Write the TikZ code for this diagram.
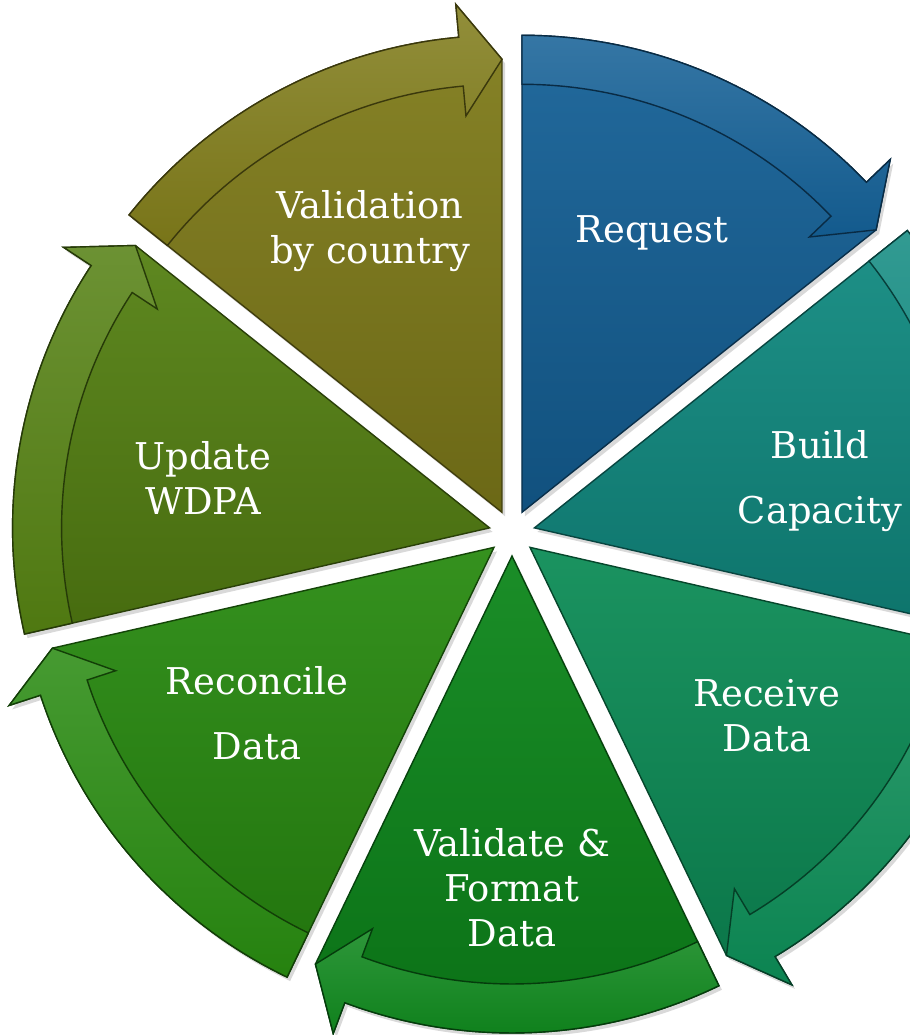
\documentclass[tikz,border=0pt]{standalone}
\usepackage{fontspec}
\setmainfont{DejaVu Serif}

\definecolor{cRequest}{RGB}{20,96,150}
\definecolor{cBuild}{RGB}{16,138,128}
\definecolor{cReceive}{RGB}{12,140,86}
\definecolor{cValidate}{RGB}{12,134,26}
\definecolor{cReconcile}{RGB}{40,138,16}
\definecolor{cUpdate}{RGB}{84,128,18}
\definecolor{cCountry}{RGB}{128,124,26}

\begin{document}
\begin{tikzpicture}
        \tikzstyle{lbl} = [text=white, align=center, inner sep=0pt, font=\fontsize{10.5}{12.8}\selectfont]
        \useasboundingbox (-5.12,-5.02) rectangle (3.98,5.33);
        \clip (-5.12,-5.02) rectangle (3.98,5.33);

        % seven exploded slices, each with its arrow band (clockwise)
        \foreach \s/\c in {90/cRequest, 38.57/cBuild, -12.86/cReceive, -64.29/cValidate,
                           -115.71/cReconcile, -167.14/cUpdate, 141.43/cCountry} {
          \pgfmathsetmacro{\e}{\s-51.43}
          \pgfmathsetmacro{\m}{\s-25.71}
          \pgfmathsetmacro{\h}{\e+5.2}
          \begin{scope}[shift={(\m:0.23)}]
            \fill[black, opacity=0.15, shift={(0.03,-0.04)}]
              (0,0) -- (\s:4.77) arc[start angle=\s, end angle=\h, radius=4.77]
              -- (\h:5.10) -- (\e:4.53) -- cycle;
            \shade[top color=\c!94!white, bottom color=\c!84!black, draw=\c!50!black, thin]
              (0,0) -- (\s:4.77) arc[start angle=\s, end angle=\h, radius=4.77]
              -- (\h:5.10) -- (\e:4.53) -- cycle;
            \shade[top color=\c!86!white, bottom color=\c!94!black, draw=\c!45!black, thin]
              (\s:4.77) arc[start angle=\s, end angle=\h, radius=4.77]
              -- (\h:5.10) -- (\e:4.53) -- (\h:3.98) -- (\h:4.28)
              arc[start angle=\h, end angle=\s, radius=4.28] -- cycle;
          \end{scope}
        }

        \node[lbl] (country) at (-1.42,3.02) {Validation\\by country};
        \node[lbl] (request) at (1.40,3.00) {Request};
        \node[lbl] (build) at (3.08,0.52) {Build\\[0.2cm]Capacity};
        \node[lbl] (receive) at (2.55,-1.83) {Receive\\Data};
        \node[lbl] (validate) at (0,-3.55) {Validate \&\\Format\\Data};
        \node[lbl] (reconcile) at (-2.55,-1.80) {Reconcile\\[0.2cm]Data};
        \node[lbl] (update) at (-3.09,0.55) {Update\\WDPA};
      \end{tikzpicture}
\end{document}
